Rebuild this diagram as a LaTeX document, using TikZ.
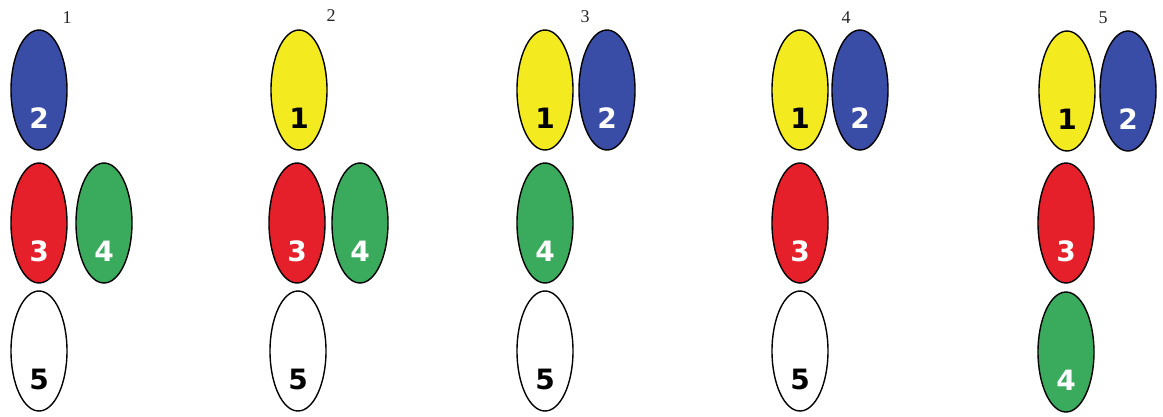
\documentclass[tikz,border=0pt]{standalone}
\usepackage{fontspec}
\setmainfont{Liberation Serif}
\newfontfamily\numfont{DejaVu Sans}
\usetikzlibrary{shapes.geometric}
\definecolor{cblue}{HTML}{3A4DA6}
\definecolor{cyellow}{HTML}{F3EA1F}
\definecolor{cred}{HTML}{E6202A}
\definecolor{cgreen}{HTML}{3AAA5C}
\tikzset{
  cell/.style={ellipse, draw=black, line width=1.4pt, minimum width=56pt, minimum height=120pt, inner sep=0pt},
  num/.style={font=\numfont\bfseries\fontsize{28}{28}\selectfont},
  stage/.style={font=\fontsize{18}{18}\selectfont, text=black!85}
}
\begin{document}
\begin{tikzpicture}[x=1pt, y=-1pt]
\useasboundingbox (0,0) rectangle (1163,416);
% stage 1
\node[stage] (s1) at (67,18) {1};
\node[cell, fill=cblue] (b1) at (39,90) {};
\node[num, text=white] (nb1) at ([yshift=-28pt]b1.center) {2};
\node[cell, fill=cred] (r1) at (39,223) {};
\node[num, text=white] (nr1) at ([yshift=-28pt]r1.center) {3};
\node[cell, fill=cgreen] (g1) at (104,223) {};
\node[num, text=white] (ng1) at ([yshift=-28pt]g1.center) {4};
\node[cell, fill=white] (w1) at (39,351) {};
\node[num, text=black] (nw1) at ([yshift=-28pt]w1.center) {5};
% stage 2
\node[stage] (s2) at (331,16) {2};
\node[cell, fill=cyellow] (y2) at (299,90) {};
\node[num, text=black] (ny2) at ([yshift=-28pt]y2.center) {1};
\node[cell, fill=cred] (r2) at (297,223) {};
\node[num, text=white] (nr2) at ([yshift=-28pt]r2.center) {3};
\node[cell, fill=cgreen] (g2) at (360,223) {};
\node[num, text=white] (ng2) at ([yshift=-28pt]g2.center) {4};
\node[cell, fill=white] (w2) at (298,351) {};
\node[num, text=black] (nw2) at ([yshift=-28pt]w2.center) {5};
% stage 3
\node[stage] (s3) at (585,17) {3};
\node[cell, fill=cyellow] (y3) at (545,90) {};
\node[num, text=black] (ny3) at ([yshift=-28pt]y3.center) {1};
\node[cell, fill=cblue] (b3) at (607,90) {};
\node[num, text=white] (nb3) at ([yshift=-28pt]b3.center) {2};
\node[cell, fill=cgreen] (g3) at (545,223) {};
\node[num, text=white] (ng3) at ([yshift=-28pt]g3.center) {4};
\node[cell, fill=white] (w3) at (545,351) {};
\node[num, text=black] (nw3) at ([yshift=-28pt]w3.center) {5};
% stage 4
\node[stage] (s4) at (846,18) {4};
\node[cell, fill=cyellow] (y4) at (800,90) {};
\node[num, text=black] (ny4) at ([yshift=-28pt]y4.center) {1};
\node[cell, fill=cblue] (b4) at (860,90) {};
\node[num, text=white] (nb4) at ([yshift=-28pt]b4.center) {2};
\node[cell, fill=cred] (r4) at (800,223) {};
\node[num, text=white] (nr4) at ([yshift=-28pt]r4.center) {3};
\node[cell, fill=white] (w4) at (800,351) {};
\node[num, text=black] (nw4) at ([yshift=-28pt]w4.center) {5};
% stage 5
\node[stage] (s5) at (1103,18) {5};
\node[cell, fill=cyellow] (y5) at (1067,91) {};
\node[num, text=black] (ny5) at ([yshift=-28pt]y5.center) {1};
\node[cell, fill=cblue] (b5) at (1128,91) {};
\node[num, text=white] (nb5) at ([yshift=-28pt]b5.center) {2};
\node[cell, fill=cred] (r5) at (1066,223) {};
\node[num, text=white] (nr5) at ([yshift=-28pt]r5.center) {3};
\node[cell, fill=cgreen] (g5) at (1066,352) {};
\node[num, text=white] (ng5) at ([yshift=-28pt]g5.center) {4};
\end{tikzpicture}
\end{document}
